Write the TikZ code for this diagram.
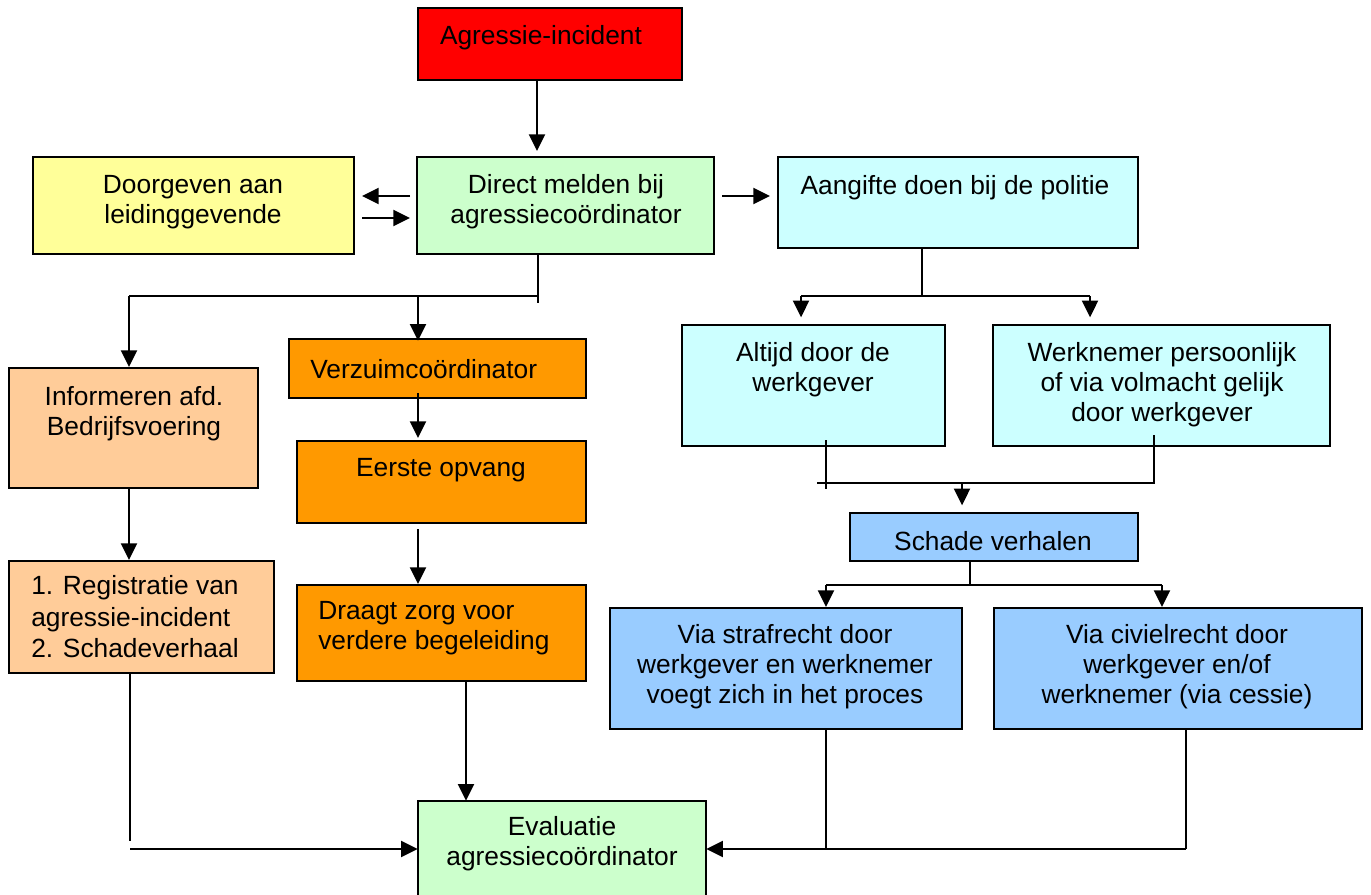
\documentclass[tikz,border=0pt]{standalone}
\usepackage{fontspec}
\setmainfont{Liberation Sans}
\usetikzlibrary{fit,arrows.meta}
\definecolor{cred}{HTML}{FF0000}
\definecolor{cyel}{HTML}{FFFF99}
\definecolor{cgrn}{HTML}{CCFFCC}
\definecolor{ccyn}{HTML}{CCFFFF}
\definecolor{cpch}{HTML}{FFCC99}
\definecolor{corg}{HTML}{FF9900}
\definecolor{cblu}{HTML}{99CCFF}
\begin{document}
\begin{tikzpicture}[x=0.75pt,y=-0.75pt,
  box/.style={draw=black, line width=1.5pt, inner sep=0pt},
  txt/.style={font=\fontsize{19.75}{22.5}\selectfont, align=center, inner sep=0pt},
  txtl/.style={txt, align=left, anchor=west},
  con/.style={line width=1.5pt},
  arr/.style={con, -{Triangle[length=12.5pt,width=12pt]}}]
\useasboundingbox (0,0) rectangle (1371,895);

% boxes
\node[box, fill=cred, fit={(418,8)(682,80)}] (agr) {};
\node[box, fill=cyel, fit={(33,157)(354,254)}] (door) {};
\node[box, fill=cgrn, fit={(417,157)(714,254)}] (dir) {};
\node[box, fill=ccyn, fit={(778,157)(1138,248)}] (aang) {};
\node[box, fill=ccyn, fit={(682,325)(945,446)}] (alt) {};
\node[box, fill=ccyn, fit={(993,325)(1330,446)}] (wer) {};
\node[box, fill=corg, fit={(289,339)(586,398)}] (verz) {};
\node[box, fill=cpch, fit={(9,368)(258,488)}] (inf) {};
\node[box, fill=corg, fit={(297,441)(586,523)}] (eer) {};
\node[box, fill=cpch, fit={(9,561)(274,673)}] (reg) {};
\node[box, fill=corg, fit={(297,585)(586,681)}] (dra) {};
\node[box, fill=cblu, fit={(850,513)(1138,561)}] (sch) {};
\node[box, fill=cblu, fit={(610,608)(962,729)}] (str) {};
\node[box, fill=cblu, fit={(994,608)(1362,729)}] (civ) {};
\node[inner sep=0pt, fill=cgrn, fit={(418,801)(706,895)}] (eva) {};
\draw[line width=1.5pt] (eva.south west) -- (eva.north west) -- (eva.north east) -- (eva.south east);

% texts
\node[txt] (tagr) at (541,38) {Agressie-incident};
\node[txt] (tdoor) at (193,202) {Doorgeven aan\\leidinggevende};
\node[txt] (tdir) at (566,202) {Direct melden bij\\agressiecoördinator};
\node[txt] (taang) at (955,188) {Aangifte doen bij de politie};
\node[txt] (talt) at (813,370) {Altijd door de\\werkgever};
\node[txt] (twer) at (1162,385) {Werknemer persoonlijk\\of via volmacht gelijk\\door werkgever};
\node[txtl] (tverz) at (310,369) {Verzuimcoördinator};
\node[txt] (tinf) at (134,414) {Informeren afd.\\Bedrijfsvoering};
\node[txt] (teer) at (441,470) {Eerste opvang};
\node[txtl, font=\fontsize{19.75}{23.6}\selectfont] (treg) at (31,617) {1. Registratie van\\agressie-incident\\2. Schadeverhaal};
\node[txtl] (tdra) at (318,628) {Draagt zorg voor\\verdere begeleiding};
\node[txt] (tsch) at (993,541) {Schade verhalen};
\node[txt] (tstr) at (785,667) {Via strafrecht door\\werkgever en werknemer\\voegt zich in het proces};
\node[txt] (tciv) at (1177,667) {Via civielrecht door\\werkgever en/of\\werknemer (via cessie)};
\node[txt] (teva) at (562,844) {Evaluatie\\agressiecoördinator};

% connectors
\draw[arr, shorten >=3.75pt] (agr.south) ++(-13,0) coordinate (a1) -- (a1 |- dir.north);

\coordinate (l1) at (410,196);
\coordinate (l2) at (362,196);
\coordinate (r1) at (362,218);
\coordinate (r2) at (410,218);
\draw[arr] (l1) -- (l2);
\draw[arr] (r1) -- (r2);
\coordinate (p1) at (722,196);
\coordinate (p2) at (770,196);
\draw[arr] (p1) -- (p2);

% from dir down
\draw[con] (dir.south) ++(-27.5,0) coordinate (j1) -- ++(0,48);
\coordinate (j2) at (538,296);
\coordinate (j3) at (129,296);
\coordinate (j4) at (418,296);
\draw[con] (j2) -- (j3);
\draw[arr] (j3) -- (j3 |- inf.north);
\draw[arr] (j4) -- ([yshift=-2pt]j4 |- verz.north);

% from aang down
\draw[con] (aang.south) ++(-36,0) coordinate (k1) -- ++(0,48) coordinate (k2);
\coordinate (k3) at (801,296);
\coordinate (k4) at (1090,296);
\draw[con] (k3) -- (k4);
\draw[arr, shorten >=5pt] (k3) -- (k3 |- alt.north);
\draw[arr, shorten >=5pt] (k4) -- (k4 |- wer.north);

% alt / wer to schade
\coordinate (m1) at (826,440);
\coordinate (m2) at (826,489);
\coordinate (m3) at (817,483);
\coordinate (m4) at (1154,483);
\coordinate (m5) at (1154,435);
\coordinate (m6) at (962,483);
\draw[con] (m1) -- (m2);
\draw[con] (m3) -- (m4) -- (m5);
\draw[arr, shorten >=5pt] (m6) -- (m6 |- sch.north);

% schade down
\draw[con] (sch.south) ++(-24,0) coordinate (n1) -- ++(0,24) coordinate (n2);
\coordinate (n3) at (826,585);
\coordinate (n4) at (1162,585);
\draw[con] (n3) -- (n4);
\draw[arr] (n3) -- (n3 |- str.north);
\draw[arr] (n4) -- (n4 |- civ.north);

% left column
\draw[arr] (inf.south -| j3) -- (j3 |- reg.north);
\draw[arr] (j4 |- verz.south) ++(0,-6) coordinate (v1) -- ([yshift=1.5pt]v1 |- eer.north);
\draw[arr] (eer.south -| j4) ++(0,5) coordinate (v2) -- (v2 |- dra.north);

% to evaluation
\coordinate (q0) at (130,673);
\coordinate (q1) at (130,841);
\coordinate (q2) at (130,849);
\draw[con] (q0) -- (q1);
\draw[arr] (q2) -- (q2 -| eva.west);
\coordinate (q3) at (466,681);
\draw[arr] (q3) -- (q3 |- eva.north);
\coordinate (s1) at (826,729);
\coordinate (s2) at (826,849);
\coordinate (s3) at (1186,729);
\coordinate (s4) at (1186,849);
\draw[con] (s1) -- (s2);
\draw[con] (s3) -- (s4);
\draw[arr] (s4) -- (s4 -| eva.east);
\end{tikzpicture}
\end{document}
